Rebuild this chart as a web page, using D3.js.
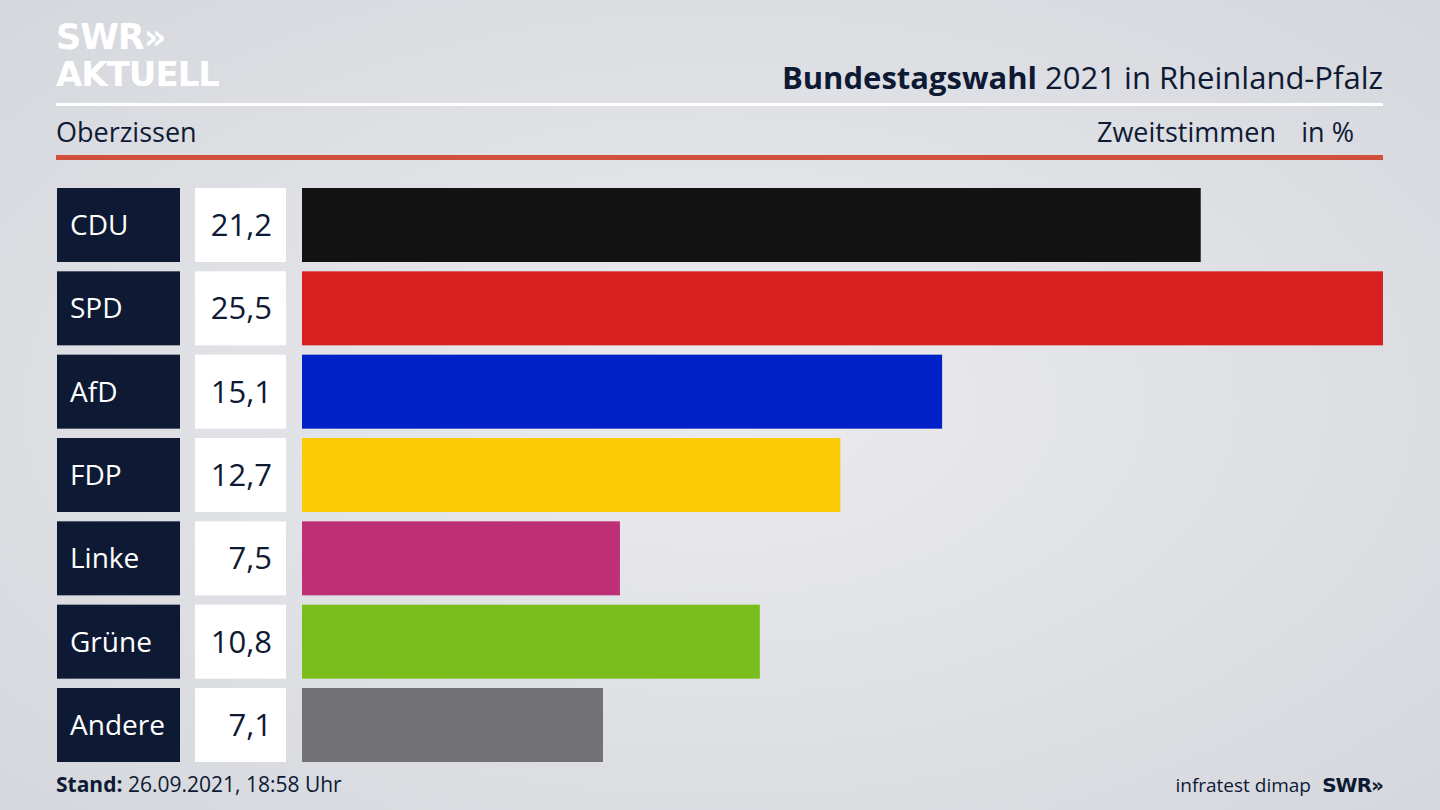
<!DOCTYPE html>
<html><head><meta charset="utf-8">
<script src="https://cdn.jsdelivr.net/npm/d3@7"></script>
<style>body{margin:0;overflow:hidden}svg{display:block;font-family:"Open Sans",sans-serif}</style>
</head><body><svg id="c" width="1440" height="810"></svg>
<script>
var parties = ["CDU","SPD","AfD","FDP","Linke","Grüne","Andere"];
var values = [21.2,25.5,15.1,12.7,7.5,10.8,7.1];
var colors = ["#121212","#d82020","#0021c8","#fdcb05","#be3075","#79be1c","#727274"];

var svg = d3.select("#c");
var navy = "#0e1a34";

var defs = svg.append("defs");
var g = defs.append("radialGradient").attr("id","bg").attr("cx","50%").attr("cy","50%").attr("r","75%");
g.append("stop").attr("offset","0%").attr("stop-color","#ebebef");
g.append("stop").attr("offset","100%").attr("stop-color","#d3d6db");
svg.append("rect").attr("width",1440).attr("height",810).attr("fill","url(#bg)");

// logo
svg.append("text").attr("x",56).attr("y",49).attr("fill","#fff").attr("font-size",35).attr("font-weight",800)
  .attr("font-family","'DejaVu Sans'").attr("letter-spacing",-1).text("SWR»");
svg.append("text").attr("x",56).attr("y",86).attr("fill","#fff").attr("font-size",34).attr("font-weight",700)
  .attr("font-family","'DejaVu Sans'").attr("letter-spacing",-1).text("AKTUELL");

// title
var t = svg.append("text").attr("x",1383).attr("y",89).attr("text-anchor","end").attr("fill",navy).attr("font-size",31);
t.append("tspan").attr("font-weight",700).text("Bundestagswahl");
t.append("tspan").text(" 2021 in Rheinland-Pfalz");
svg.append("rect").attr("x",56).attr("y",103).attr("width",1327).attr("height",3).attr("fill","#fff");
svg.append("text").attr("x",56).attr("y",142).attr("fill",navy).attr("font-size",27).text("Oberzissen");
svg.append("text").attr("x",1276).attr("y",142).attr("text-anchor","end").attr("fill",navy).attr("font-size",27).text("Zweitstimmen");
svg.append("text").attr("x",1354).attr("y",142).attr("text-anchor","end").attr("fill",navy).attr("font-size",27).text("in %");
svg.append("rect").attr("x",56).attr("y",155).attr("width",1327).attr("height",5).attr("fill","#d0503c");

var y = d3.scaleBand().domain(parties).range([188,762]).paddingInner(0.112).paddingOuter(0);
var x = d3.scaleLinear().domain([0,25.5]).range([302,1383]);
var fmt = function(v){return d3.format(".1f")(v).replace(".",",");};

var row = svg.selectAll("g.row").data(parties).enter().append("g");
row.append("rect").attr("x",57).attr("width",123).attr("y",function(d){return y(d);}).attr("height",y.bandwidth()).attr("fill",navy);
row.append("text").attr("x",70).attr("y",function(d){return y(d)+y.bandwidth()/2+10;}).attr("fill","#fff").attr("font-size",28).text(function(d){return d;});
row.append("rect").attr("x",195).attr("width",91).attr("y",function(d){return y(d);}).attr("height",y.bandwidth()).attr("fill","#fff");
row.append("text").attr("x",272).attr("text-anchor","end").attr("y",function(d){return y(d)+y.bandwidth()/2+11;}).attr("fill",navy).attr("font-size",31)
  .text(function(d,i){return fmt(values[i]);});
row.append("rect").attr("x",x(0)).attr("y",function(d){return y(d);}).attr("height",y.bandwidth())
  .attr("width",function(d,i){return x(values[i])-x(0);}).attr("fill",function(d,i){return colors[i];});

// footer
var f = svg.append("text").attr("x",56).attr("y",792).attr("fill",navy).attr("font-size",21);
f.append("tspan").attr("font-weight",700).text("Stand:");
f.append("tspan").text(" 26.09.2021, 18:58 Uhr");
svg.append("text").attr("x",1311).attr("y",792).attr("text-anchor","end").attr("fill",navy).attr("font-size",19).text("infratest dimap");
svg.append("text").attr("x",1383).attr("y",792).attr("text-anchor","end").attr("fill",navy).attr("font-size",20).attr("font-weight",800)
  .attr("font-family","'DejaVu Sans'").attr("letter-spacing",-1).text("SWR»");
</script></body></html>
